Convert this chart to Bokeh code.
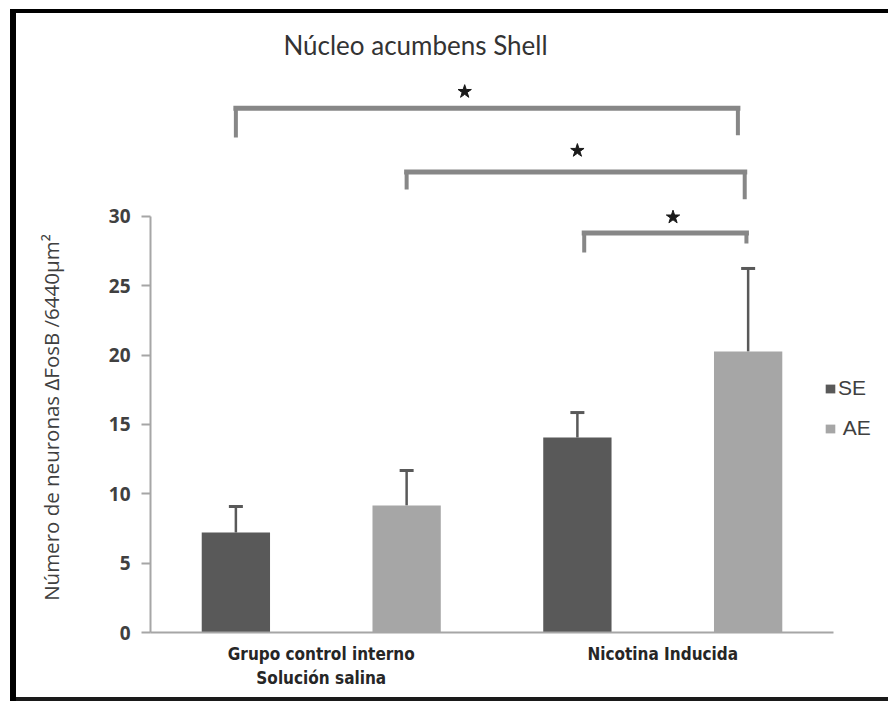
import math
from bokeh.plotting import figure
from bokeh.models import (ColumnDataSource, Range1d, FixedTicker, Whisker, TeeHead,
                          Label, Legend, LegendItem)
from bokeh.embed import file_html
from bokeh.resources import INLINE

# ---------------- data ----------------
groups = ["Grupo control interno\nSolución salina", "Nicotina Inducida"]
series = ["SE", "AE"]
se_mean = [7.21, 14.06]
se_sem = [1.88, 1.80]
ae_mean = [9.16, 20.26]
ae_sem = [2.52, 5.99]
y_ticks = [0, 5, 10, 15, 20, 25, 30]

# significance brackets (left x, right x, bar height, leg ends) and stars
br_left = [0.50, 1.50, 2.54]
br_right = [3.44, 3.48, 3.49]
br_y = [37.8, 33.2, 28.8]
br_left_end = [35.7, 31.95, 27.4]
br_right_end = [35.85, 31.25, 28.05]
star_x = [1.84, 2.50, 3.06]
star_y = [39.0, 34.75, 29.95]

title_text = "Núcleo acumbens Shell"
ylabel_text = "Número de neuronas ΔFosB /6440µm²"

# --------------- figure ---------------
p = figure(width=888, height=701,
           x_range=Range1d(0, 4.322), y_range=Range1d(0, 43.77),
           output_backend="svg", toolbar_location=None,
           min_border_left=150, min_border_right=0,
           min_border_top=25, min_border_bottom=69)
# black picture frame drawn behind a transparent canvas
p.styles = {"background": (
    "linear-gradient(#000000,#000000) 10px 9px / 6px 692px no-repeat, "
    "linear-gradient(#000000,#000000) 10px 9px / 878px 4px no-repeat, "
    "linear-gradient(#1a1a1a,#1a1a1a) 10px 697px / 878px 4px no-repeat, "
    "#ffffff")}
p.background_fill_color = None
p.border_fill_color = None
p.outline_line_color = None
p.xgrid.visible = False
p.ygrid.visible = False

se_x = [2 * i + 0.5 for i in range(len(groups))]
ae_x = [2 * i + 1.5 for i in range(len(groups))]
group_x = [2 * i + 1 for i in range(len(groups))]

se_src = ColumnDataSource(dict(x=se_x, top=se_mean,
                               upper=[m + e for m, e in zip(se_mean, se_sem)]))
ae_src = ColumnDataSource(dict(x=ae_x, top=ae_mean,
                               upper=[m + e for m, e in zip(ae_mean, ae_sem)]))

r_se = p.vbar(x="x", top="top", bottom=0, width=0.4, source=se_src,
              fill_color="#595959", line_color=None)
r_ae = p.vbar(x="x", top="top", bottom=0, width=0.4, source=ae_src,
              fill_color="#a6a6a6", line_color=None)

for src in (se_src, ae_src):
    w = Whisker(source=src, base="x", upper="upper", lower="top",
                dimension="height", line_color="#595959", line_width=2.5,
                upper_head=TeeHead(size=14, line_color="#595959", line_width=3),
                lower_head=None)
    p.add_layout(w)

# brackets
bc = "#878787"
p.segment(x0=br_left, x1=br_right, y0=br_y, y1=br_y, line_color=bc, line_width=5,
          line_cap="square")
p.segment(x0=br_left, x1=br_left, y0=br_y, y1=br_left_end, line_color=bc, line_width=4)
p.segment(x0=br_right, x1=br_right, y0=br_y, y1=br_right_end, line_color=bc, line_width=4)
p.scatter(x=star_x, y=star_y, marker="star", size=14,
          fill_color="#1a1a1a", line_color="#1a1a1a")

# axes
ax_c = "#a6a6a6"
ya = p.yaxis[0]
ya.bounds = (0, 30)
ya.ticker = FixedTicker(ticks=y_ticks)
ya.minor_tick_line_color = None
ya.major_tick_in = 0
ya.major_tick_out = 9
ya.axis_line_color = ax_c
ya.axis_line_width = 2
ya.major_tick_line_color = ax_c
ya.major_tick_line_width = 2
ya.major_label_text_font = "Open Sans"
ya.major_label_text_font_size = "19px"
ya.major_label_text_font_style = "bold"
ya.major_label_text_color = "#404040"
ya.major_label_standoff = 11

xa = p.xaxis[0]
xa.bounds = (0, 4)
xa.ticker = FixedTicker(ticks=group_x)
xa.major_label_overrides = {gx: g for gx, g in zip(group_x, groups)}
xa.minor_tick_line_color = None
xa.major_tick_line_color = None
xa.axis_line_color = ax_c
xa.axis_line_width = 2
xa.major_label_text_font = "'Liberation Sans Narrow', 'DejaVu Sans Condensed', 'Roboto Condensed', Roboto"
xa.major_label_text_font_size = "17px"
xa.major_label_text_font_style = "bold"
xa.major_label_text_color = "#262626"
xa.major_label_standoff = 5

# title and y label
p.add_layout(Label(x=1.552, y=42.33, text=title_text, text_font="Lato",
                   text_font_size="26px", text_color="#333333",
                   text_align="center", text_baseline="alphabetic"))
p.add_layout(Label(x=-0.58, y=15.5, text=ylabel_text, angle=math.pi / 2,
                   text_font="Open Sans", text_font_size="20.5px",
                   text_color="#404040", text_align="center",
                   text_baseline="middle"), "left")

legend = Legend(items=[LegendItem(label=series[0], renderers=[r_se]),
                       LegendItem(label=" " + series[1], renderers=[r_ae])],
                location=(674, 192), orientation="vertical",
                border_line_color=None, background_fill_alpha=0,
                padding=0, margin=0, glyph_width=12, glyph_height=11,
                label_standoff=2, label_height=24, spacing=16,
                label_text_font="Liberation Sans", label_text_font_size="21px",
                label_text_color="#404040")
p.add_layout(legend)

open("out.html", "w").write(file_html(p, INLINE))
